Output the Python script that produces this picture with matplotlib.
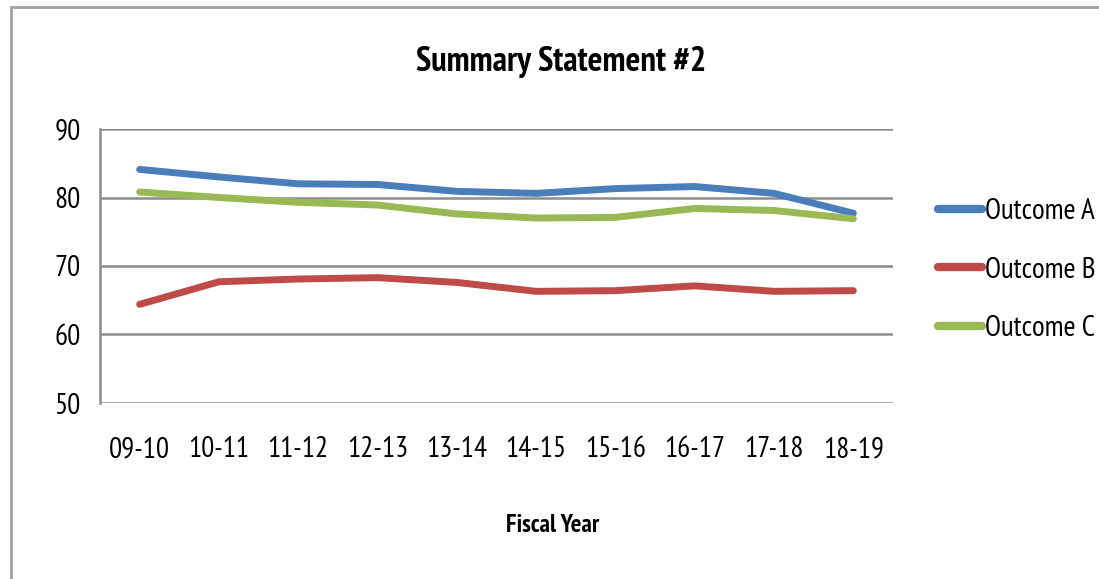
import matplotlib
matplotlib.use("Agg")
import matplotlib.pyplot as plt
from matplotlib.patches import Rectangle

years = ["09-10", "10-11", "11-12", "12-13", "13-14", "14-15", "15-16", "16-17", "17-18", "18-19"]
outcome_a = [84.1, 83.0, 82.0, 81.9, 80.9, 80.6, 81.3, 81.6, 80.6, 77.7]
outcome_b = [64.4, 67.7, 68.1, 68.3, 67.6, 66.3, 66.4, 67.1, 66.3, 66.4]
outcome_c = [80.8, 80.0, 79.3, 78.9, 77.6, 77.0, 77.1, 78.4, 78.1, 76.9]
series_names = ["Outcome A", "Outcome B", "Outcome C"]
yticks = [50, 60, 70, 80, 90]

colors = ["#4A7EBB", "#BE4B48", "#98B954"]
fam = ["PT Sans Narrow", "DejaVu Sans"]
plt.rcParams['font.family'] = fam

fig = plt.figure(figsize=(10.99, 5.79), dpi=100)
fig.patches.append(Rectangle((11/1099, -0.05), 1.1, 1 - 7/579 + 0.05, transform=fig.transFigure,
                             fill=False, edgecolor="#a0a0a0", linewidth=2))
ax = fig.add_axes([100/1099, 1 - 403/579, 793/1099, 274/579])

x = list(range(len(years)))
for vals, name, c in zip([outcome_a, outcome_b, outcome_c], series_names, colors):
    ax.plot(x, vals, color=c, linewidth=5, solid_capstyle="round", solid_joinstyle="round", label=name)

ax.set_xlim(-0.5, len(years) - 0.5)
ax.set_ylim(50, 90)
ax.set_yticks(yticks)
ax.set_xticks(x)
ax.set_xticklabels(years)
ax.tick_params(axis="both", length=0, labelsize=21)
ax.tick_params(axis="y", pad=14)
ax.tick_params(axis="x", pad=24)
ax.grid(axis="y", color="#8c8c8c", linewidth=1.8)
ax.set_axisbelow(True)
for s in ["top", "right", "bottom"]:
    ax.spines[s].set_visible(False)
ax.spines["left"].set_color("#8c8c8c")
ax.spines["left"].set_linewidth(1.8)

fig.text(561/1099, 1 - 62/579, "Summary Statement #2", ha="center", va="center",
         fontsize=25, fontweight="bold")
fig.text(553/1099, 1 - 525/579, "Fiscal Year", ha="center", va="center",
         fontsize=18, fontweight="bold")

leg = ax.legend(loc="center left", bbox_to_anchor=(1.057, 0.485), frameon=False,
                fontsize=21, handlelength=1.5, handletextpad=0.1, labelspacing=1.07,
                borderpad=0, borderaxespad=0)
for line in leg.get_lines():
    line.set_linewidth(6)
for t in leg.get_texts():
    t.set_family(fam)

fig.savefig("out.png", dpi=100)
